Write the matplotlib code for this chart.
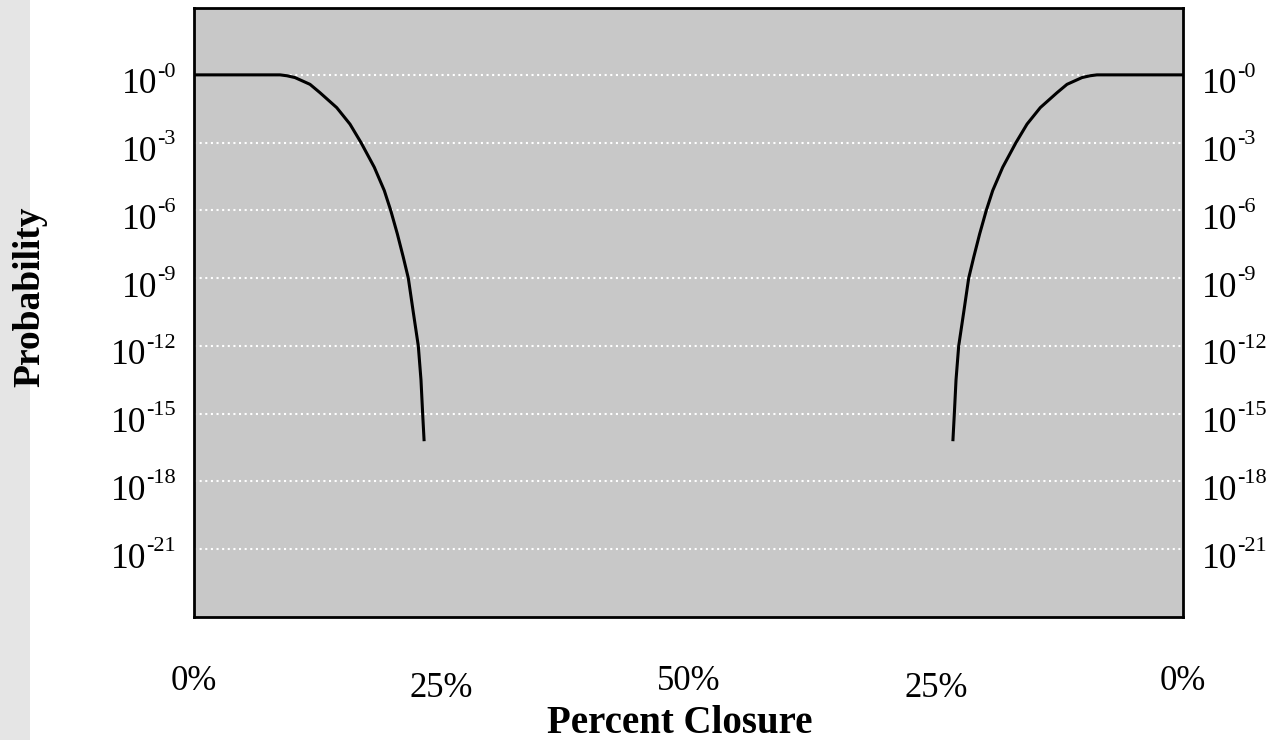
import matplotlib
matplotlib.use('Agg')
import matplotlib.pyplot as plt
from matplotlib.patches import Rectangle

plt.rcParams['font.family'] = ['Liberation Serif', 'DejaVu Serif']

# left curve: position on the 0-100 axis and -log10(probability)
left_x = [0.0, 8.70, 9.40, 10.21, 11.73, 12.74, 14.43, 15.77, 16.89, 18.23, 19.24, 19.89,
          20.56, 21.16, 21.67, 22.17, 22.68, 22.95, 23.12, 23.26]
left_l = [0.0, 0.0, 0.04, 0.12, 0.42, 0.79, 1.45, 2.18, 3.0, 4.09, 5.12, 6.0,
          7.04, 8.07, 9.0, 10.5, 12.0, 13.5, 15.0, 16.15]

# right curve (mirror side of the chart)
right_x = [100.0, 91.30, 90.60, 89.79, 88.27, 87.26, 85.57, 84.23, 83.11, 81.77, 80.76, 80.11,
           79.44, 78.84, 78.33, 77.83, 77.32, 77.05, 76.88, 76.74]
right_l = [0.0, 0.0, 0.04, 0.12, 0.42, 0.79, 1.45, 2.18, 3.0, 4.09, 5.12, 6.0,
           7.04, 8.07, 9.0, 10.5, 12.0, 13.5, 15.0, 16.15]

y_exps = [0, 3, 6, 9, 12, 15, 18, 21]
x_ticks = [0, 25, 50, 75, 100]
x_labels = ['0%', '25%', '50%', '25%', '0%']
x_label_drop = [0, 1, 0, 1, 0]

fig = plt.figure(figsize=(12.7, 7.4), dpi=100)
fig.patch.set_facecolor('white')
fig.patches.append(Rectangle((0, 0), 30 / 1270, 1, transform=fig.transFigure,
                             facecolor='#e5e5e5', edgecolor='none', zorder=0))

ax = fig.add_axes([194 / 1270, 1 - 617 / 740, (1183 - 194) / 1270, (617 - 8) / 740])
ax.set_facecolor('#c8c8c8')
ax.set_yscale('log')
ax.set_ylim(1e-24, 10**2.96)
ax.set_xlim(0, 100)

for e in y_exps:
    ax.axhline(10.0 ** -e, color='white', lw=1.5, ls=(0, (1, 1.7)), zorder=1)

ax.plot(left_x, [10.0 ** -v for v in left_l], color='black', lw=2.2, zorder=3,
        solid_joinstyle='round')
ax.plot(right_x, [10.0 ** -v for v in right_l], color='black', lw=2.2, zorder=3,
        solid_joinstyle='round')

ax.set_yticks([])
ax.minorticks_off()
ax.yaxis.set_minor_locator(matplotlib.ticker.NullLocator())
ax.set_xticks([])

# y tick labels: "10" plus a smaller raised "-n", on both sides
ytr = ax.get_yaxis_transform()
base_fs, sup_fs = 25.5, 16
for e in y_exps:
    yv = 10.0 ** -e
    sup = ax.annotate('-%d' % e, xy=(0, yv), xycoords=ytr, xytext=(-13, -1.2),
                      textcoords='offset points', ha='right', va='baseline',
                      fontsize=sup_fs, annotation_clip=False)
    ax.annotate('10', xy=(0, yv), xycoords=(sup, ytr), xytext=(0, -13.3),
                textcoords='offset points', ha='right', va='baseline',
                fontsize=base_fs, annotation_clip=False)
    ten = ax.annotate('10', xy=(1, yv), xycoords=ytr, xytext=(13.7, -13.3),
                      textcoords='offset points', ha='left', va='baseline',
                      fontsize=base_fs, annotation_clip=False)
    ax.annotate('-%d' % e, xy=(1, yv), xycoords=(ten, ytr), xytext=(0, -1.2),
                textcoords='offset points', ha='left', va='baseline',
                fontsize=sup_fs, annotation_clip=False)

xtr = ax.get_xaxis_transform()
for xv, lab, d in zip(x_ticks, x_labels, x_label_drop):
    ax.annotate(lab, xy=(xv, 0), xycoords=xtr, xytext=(0, -52.6 - d * 5.0),
                textcoords='offset points', ha='center', va='baseline',
                fontsize=25, annotation_clip=False)

for s in ax.spines.values():
    s.set_linewidth(2.0)
    s.set_color('black')

fig.text(680 / 1270, 1 - 733 / 740, 'Percent Closure', ha='center', va='baseline',
         fontsize=28, fontweight='bold')
fig.text(30 / 1270, 1 - 297 / 740, 'Probability', ha='center', va='center',
         rotation=90, fontsize=27, fontweight='bold')

fig.savefig('out.png', dpi=100)
